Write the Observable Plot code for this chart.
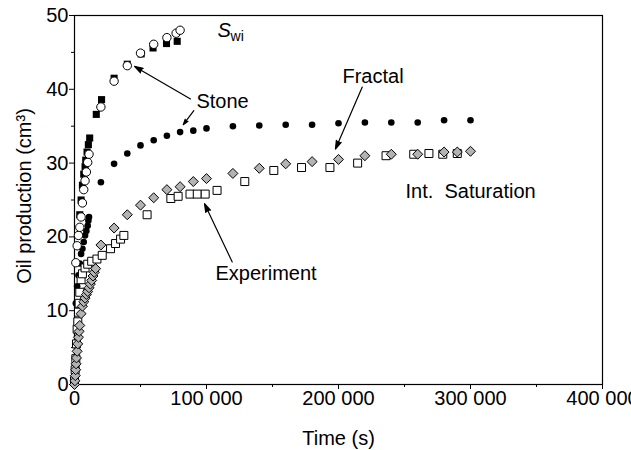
<!DOCTYPE html>
<html><head><meta charset="utf-8">
<script src="https://cdn.jsdelivr.net/npm/d3@7"></script>
<script src="https://cdn.jsdelivr.net/npm/@observablehq/plot@0.6"></script>
<style>body{margin:0;background:#fff}</style>
</head><body><div id="chart"></div>
<script>
// tick values
const xTicks = [0, 100000, 200000, 300000, 400000];
const xMinor = [50000, 150000, 250000, 350000];
const yTicks = [0, 10, 20, 30, 40, 50];
const yMinor = [5, 15, 25, 35, 45];

// Swi: experiment (filled squares)
const swiExpTime = [4000, 5000, 6000, 7000, 8000, 8500, 9500, 10500, 11500, 16500, 20500, 30000, 40000, 50500, 59500, 69700, 77800];
const swiExpOil  = [23.0, 25.0, 27.0, 28.5, 29.5, 30.4, 31.5, 32.5, 33.4, 36.6, 38.6, 41.5, 43.4, 44.8, 45.6, 46.2, 46.5];

// Swi: Stone model (open circles)
const swiStoneTime = [1000, 2000, 3000, 4000, 5000, 6000, 7000, 8000, 9000, 10000, 11000, 20000, 30000, 40000, 50000, 60000, 70000, 77000, 80000];
const swiStoneOil  = [16.5, 18.8, 20.2, 21.3, 22.7, 24.6, 26.4, 27.6, 28.8, 30.1, 31.2, 37.6, 41.1, 43.2, 44.9, 46.1, 47.0, 47.6, 48.0];

// Int. saturation: Stone model (filled circles)
const intStoneTime = [1000, 2000, 3000, 4000, 5000, 6000, 7000, 8000, 9000, 10000, 10500, 11000, 20000, 30000, 40000, 50000, 60000, 70000, 80000, 90000, 100000, 120000, 140000, 160000, 180000, 200000, 220000, 240000, 260000, 280000, 300000];
const intStoneOil  = [11.0, 13.3, 14.8, 16.4, 17.7, 18.4, 19.3, 20.2, 20.8, 21.5, 22.2, 22.7, 27.4, 29.9, 31.3, 32.4, 33.1, 33.7, 34.2, 34.4, 34.7, 35.0, 35.1, 35.2, 35.2, 35.4, 35.5, 35.5, 35.5, 35.8, 35.8];

// Int. saturation: experiment (open squares)
const intExpTime = [0, 500, 1000, 1500, 2000, 2500, 3000, 3500, 4000, 5000, 6000, 8000, 10000, 13000, 17000, 21000, 27300, 31100, 34900, 37400, 55000, 73000, 78500, 87500, 93000, 99000, 108000, 129000, 151000, 172000, 193500, 214500, 236000, 257000, 268500, 279000, 290000];
const intExpOil  = [0.5, 2.0, 3.5, 5.5, 7.5, 8.5, 9.8, 11.0, 12.5, 14.2, 15.0, 15.8, 16.3, 16.7, 17.0, 17.5, 18.4, 19.1, 19.7, 20.2, 23.0, 25.2, 25.5, 25.8, 25.8, 25.8, 26.3, 27.5, 29.0, 29.4, 29.4, 30.0, 31.0, 31.2, 31.3, 31.2, 31.3];

// Int. saturation: fractal model (gray diamonds)
const intFracTime = [0, 300, 600, 900, 1200, 1500, 2000, 2500, 3000, 3500, 4000, 5000, 6000, 7000, 8000, 9000, 10000, 11000, 12000, 13000, 14000, 15000, 16000, 20000, 30000, 40000, 50000, 60000, 70000, 80000, 90000, 100000, 120000, 140000, 160000, 180000, 200000, 220000, 240000, 260000, 280000, 290000, 300000];
const intFracOil  = [0, 0.5, 1.2, 2.0, 2.8, 3.6, 4.5, 5.5, 6.4, 7.2, 8.0, 9.6, 10.6, 11.2, 11.7, 12.2, 12.6, 13.1, 13.6, 14.1, 14.7, 15.2, 15.7, 18.9, 21.2, 23.0, 24.3, 25.3, 26.4, 26.8, 27.5, 27.9, 28.6, 29.3, 29.9, 30.2, 30.5, 31.0, 31.2, 31.2, 31.5, 31.5, 31.6];

// annotations (data coordinates)
const noteLabels = ["Stone", "Fractal", "Experiment", "Int.\u00a0\u00a0Saturation"];
const noteTime   = [92400, 203000, 106800, 250800];
const noteOil    = [38.4, 41.7, 15.0, 26.2];

const arrowTime1 = [87900, 90400, 218000, 119500];
const arrowOil1  = [38.7, 37.1, 40.3, 16.6];
const arrowTime2 = [45500, 82400, 197700, 98500];
const arrowOil2  = [43.1, 35.2, 31.9, 24.5];

const xTitle = "Time (s)";
const yTitle = "Oil production (cm³)";

const rows = (ts, vs) => ts.map((t, i) => ({t, v: vs[i]}));
const notes = noteLabels.map((s, i) => ({s, t: noteTime[i], v: noteOil[i]}));
const arrows = arrowTime1.map((t, i) => ({t1: t, v1: arrowOil1[i], t2: arrowTime2[i], v2: arrowOil2[i]}));

const fmt = d => d3.format(",")(d).replace(/,/g, " ");
const font = "'Liberation Sans', Arial, Helvetica, sans-serif";

const chart = Plot.plot({
  width: 631, height: 450,
  marginLeft: 74, marginRight: 29, marginTop: 15, marginBottom: 66,
  style: {fontFamily: font, fontSize: "20px", color: "black", background: "white"},
  x: {domain: [0, 400000]},
  y: {domain: [0, 50]},
  marks: [
    Plot.axisX({ticks: xTicks, tickSize: 5, tickPadding: 1, tickFormat: fmt, label: null}),
    Plot.axisX({ticks: xMinor, tickSize: 3, tickFormat: () => "", label: null}),
    Plot.axisY({ticks: yTicks, tickSize: 5, tickPadding: 1, label: null}),
    Plot.axisY({ticks: yMinor, tickSize: 3, tickFormat: () => "", label: null}),
    Plot.frame({stroke: "black", strokeWidth: 1.2}),
    Plot.text([xTitle], {text: d => d, frameAnchor: "bottom", lineAnchor: "top", dy: 46, fontSize: 20}),
    Plot.dot(rows(intStoneTime, intStoneOil), {x: "t", y: "v", r: 3.3, fill: "black", stroke: "none"}),
    Plot.dot(rows(intExpTime, intExpOil), {x: "t", y: "v", symbol: "square", r: 4.5, fill: "white", stroke: "black", strokeWidth: 1}),
    Plot.dot(rows(intFracTime, intFracOil), {x: "t", y: "v", symbol: "diamond2", r: 4.5, fill: "#b3b3b3", stroke: "black", strokeWidth: 1}),
    Plot.dot(rows(swiExpTime, swiExpOil), {x: "t", y: "v", symbol: "square", r: 4, fill: "black", stroke: "none"}),
    Plot.dot(rows(swiStoneTime, swiStoneOil), {x: "t", y: "v", r: 4.2, fill: "white", stroke: "black", strokeWidth: 1}),
    Plot.arrow(arrows, {x1: "t1", y1: "v1", x2: "t2", y2: "v2", stroke: "black", fill: "black", strokeWidth: 1.2, headLength: 11, headAngle: 35}),
    Plot.text(notes, {x: "t", y: "v", text: "s", textAnchor: "start", fontSize: 20}),
    Plot.text(["S"], {x: () => 108300, y: () => 47.9, text: d => d, textAnchor: "start", fontSize: 20, fontStyle: "italic"}),
    Plot.text(["wi"], {x: () => 118200, y: () => 47.2, text: d => d, textAnchor: "start", fontSize: 14})
  ]
});

// rotated y-axis title
d3.select(chart).append("text")
  .attr("transform", "translate(24,196) rotate(-90)")
  .attr("text-anchor", "middle")
  .attr("dy", "0.35em")
  .attr("fill", "black")
  .style("font-family", font)
  .style("font-size", "20px")
  .text(yTitle);

document.getElementById("chart").appendChild(chart);
</script>
</body></html>
